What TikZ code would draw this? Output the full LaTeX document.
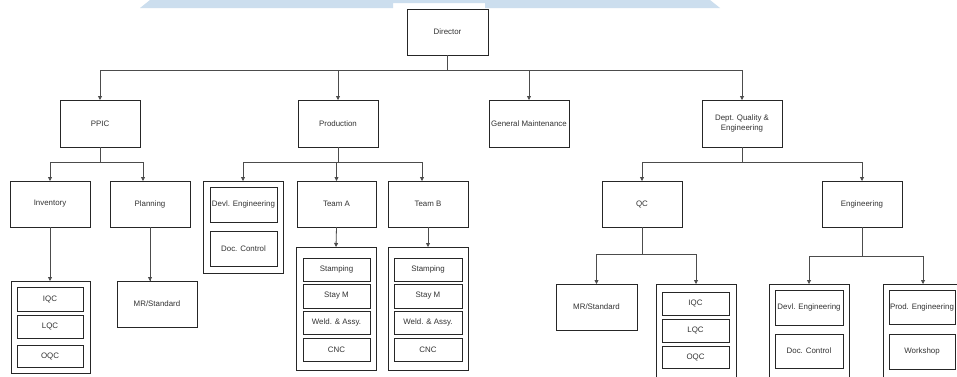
\documentclass[tikz,border=0pt]{standalone}
\usepackage{fontspec}
\setmainfont{Liberation Sans}
\usetikzlibrary{arrows.meta}
\definecolor{band}{RGB}{204,222,238}
\definecolor{ink}{RGB}{51,51,51}
\newcommand{\bx}[6]{\node[box, minimum width={(#4-#2)*1pt}, minimum height={(#5-#3)*1pt}] (#1) at ({(#2+#4)/2},{(#3+#5)/2}) {#6};}
\tikzset{
  box/.style={draw=black!85, line width=0.8pt, inner sep=0pt, outer sep=0pt, fill=white, text=ink, font=\fontsize{7.9}{9.4}\selectfont, align=center},
  conn/.style={draw=black!70, line width=0.8pt},
  arr/.style={conn, -{Triangle[width=4pt,length=4pt]}},
}
\begin{document}
\begin{tikzpicture}[x=1pt,y=-1pt]
\useasboundingbox (0,0) rectangle (957,376);
\fill[white] (0,0) rectangle (957,376);
\clip (0,0) rectangle (957,376);
% top band
\fill[band] (140,8) -- (150,0) -- (710,0) -- (720,8) -- (485,8) -- (485,3) -- (393,3) -- (393,8) -- cycle;
% level 0 and 1
\bx{dir}{407}{9}{488}{55}{Director}
\bx{ppic}{60}{100}{140}{147}{PPIC}
\bx{prod}{298}{100}{378}{147}{Production}
\bx{gm}{489}{100}{569}{147}{General Maintenance}
\bx{dqe}{702}{100}{782}{147}{Dept. Quality \&\\Engineering}
% PPIC branch
\bx{inv}{10}{181}{90}{227}{Inventory}
\bx{plan}{110}{181}{190}{227}{Planning}
\bx{gq1}{11}{281}{90}{373}{}
\bx{iqc1}{17}{287}{83}{311}{IQC}
\bx{lqc1}{17}{315}{83}{338}{LQC}
\bx{oqc1}{17}{345}{83}{367}{OQC}
\bx{mr1}{117}{281}{197}{327}{MR/Standard}
% Production branch
\bx{gdv}{203}{181}{283}{273}{}
\bx{dev1}{210}{187}{277}{222}{Devl. Engineering}
\bx{doc1}{210}{231}{277}{266}{Doc. Control}
\bx{ta}{297}{181}{376}{227}{Team A}
\bx{tb}{388}{181}{468}{227}{Team B}
\bx{ga}{296}{247}{376}{370}{}
\bx{sa}{303}{258}{370}{281}{Stamping}
\bx{ma}{303}{284}{370}{308}{Stay M}
\bx{wa}{303}{311}{370}{334}{Weld. \& Assy.}
\bx{ca}{303}{338}{370}{361}{CNC}
\bx{gb}{388}{247}{468}{370}{}
\bx{sb}{394}{258}{462}{281}{Stamping}
\bx{mb}{394}{284}{462}{308}{Stay M}
\bx{wb}{394}{311}{462}{334}{Weld. \& Assy.}
\bx{cb}{394}{338}{462}{361}{CNC}
% Dept branch
\bx{qc}{602}{181}{682}{227}{QC}
\bx{eng}{822}{181}{902}{227}{Engineering}
\bx{mr2}{556}{284}{637}{330}{MR/Standard}
\bx{gq2}{656}{284}{736}{382}{}
\bx{iqc2}{662}{292}{729}{315}{IQC}
\bx{lqc2}{662}{319}{729}{342}{LQC}
\bx{oqc2}{662}{346}{729}{368}{OQC}
\bx{gdv2}{769}{284}{849}{382}{}
\bx{dev2}{775}{290}{843}{325}{Devl. Engineering}
\bx{doc2}{775}{334}{843}{368}{Doc. Control}
\bx{gpe}{883}{284}{963}{382}{}
\bx{pe}{889}{290}{955}{324}{Prod. Engineering}
\bx{ws}{889}{334}{955}{369}{Workshop}
% junctions
\coordinate (j0) at (447.5,70);
\coordinate (j1) at (100,162);
\coordinate (j2) at (338,162);
\coordinate (j3) at (742,162);
\coordinate (j4) at (642,254);
\coordinate (j5) at (862,256);
% connectors
\draw[conn] (dir.south) -- (j0);
\draw[arr] (j0) -| (ppic.north);
\draw[arr] (j0) -| (prod.north);
\draw[arr] (j0) -| (gm.north);
\draw[arr] (j0) -| (dqe.north);
\draw[conn] (ppic.south) -- (j1);
\draw[arr] (j1) -| (inv.north);
\draw[arr] (j1) -| ([xshift=-7pt]plan.north);
\draw[arr] (inv.south) -- (inv.south |- gq1.north);
\draw[conn] (plan.south) -- (plan.south |- mr1.north);
\draw[arr] ([yshift=4pt]plan.south |- mr1.north) -- (plan.south |- mr1.north);
\draw[conn] (prod.south) -- (j2);
\draw[arr] (j2) -| (gdv.north);
\draw[arr] (j2) -| (ta.north);
\draw[arr] (j2) -| ([xshift=-6pt]tb.north);
\draw[arr] (ta.south) -- (ga.north);
\draw[arr] (tb.south) -- (gb.north);
\draw[conn] (dqe.south) -- (j3);
\draw[arr] (j3) -| (qc.north);
\draw[arr] (j3) -| (eng.north);
\draw[conn] (qc.south) -- (j4);
\draw[arr] (j4) -| (mr2.north);
\draw[arr] (j4) -| (gq2.north);
\draw[conn] (eng.south) -- (j5);
\draw[arr] (j5) -| (gdv2.north);
\draw[arr] (j5) -| (gpe.north);
\end{tikzpicture}
\end{document}
